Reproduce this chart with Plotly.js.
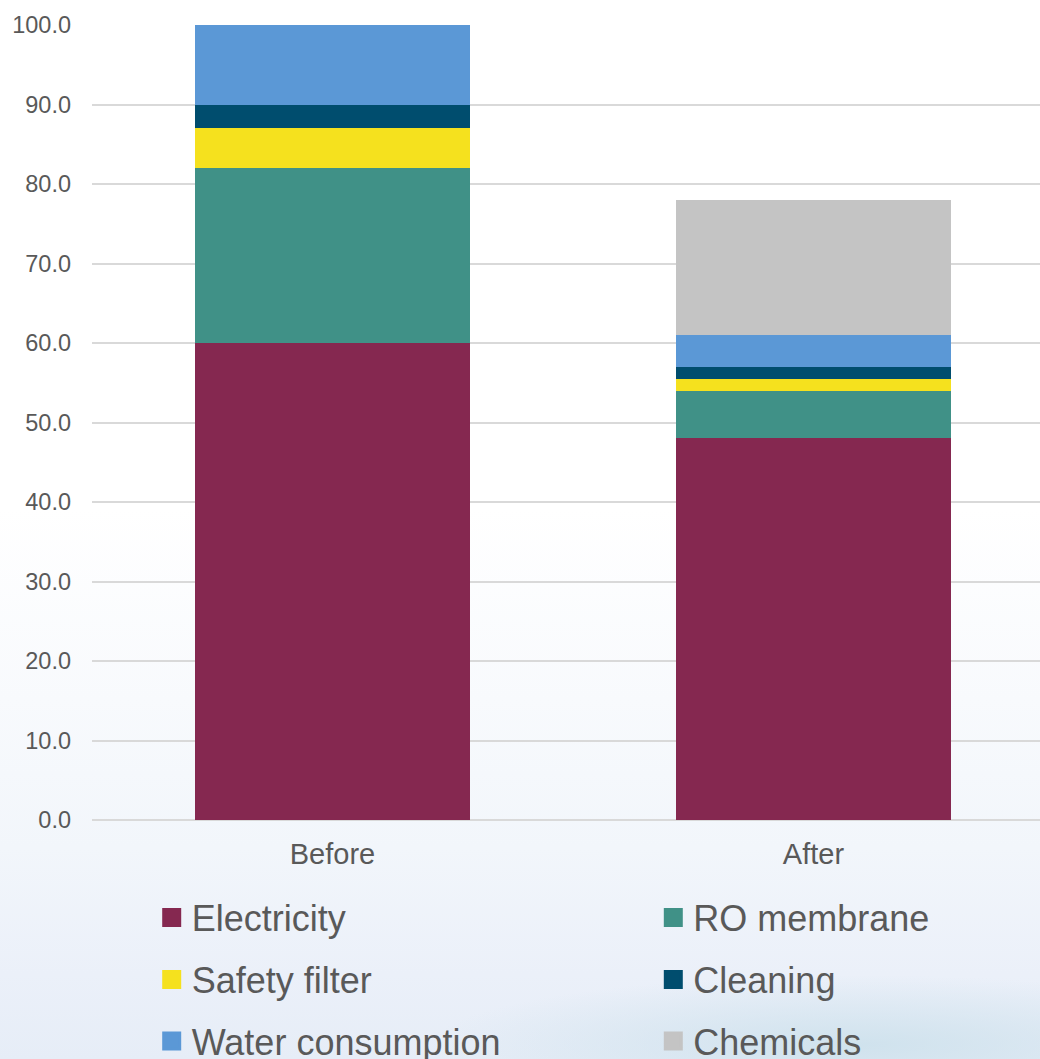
<!DOCTYPE html>
<html>
<head>
<meta charset="utf-8">
<script src="https://cdn.plot.ly/plotly-3.0.1.min.js"></script>
<style>
  html, body { margin: 0; padding: 0; }
  body {
    width: 1040px; height: 1059px; overflow: hidden;
    background:
      radial-gradient(ellipse 430px 70px at 860px 1045px, rgba(205,225,236,0.9), rgba(205,225,236,0) 100%),
      linear-gradient(to bottom, #ffffff 0%, #ffffff 48%, #f8fafd 66%, #f2f6fb 80%, #ebf0f9 92%, #e6edf7 100%);
  }
  #chart { width: 1040px; height: 1059px; }
</style>
</head>
<body>
<div id="chart"></div>
<script>
const categories = ["Before", "After"];
const seriesNames = ["Electricity", "RO membrane", "Safety filter", "Cleaning", "Water consumption", "Chemicals"];
const electricity = [60, 48];
const roMembrane = [22, 6];
const safetyFilter = [5, 1.5];
const cleaning = [3, 1.5];
const waterConsumption = [10, 4];
const chemicals = [0, 17];
const yTickValues = [0, 10, 20, 30, 40, 50, 60, 70, 80, 90, 100];
const yTickLabels = ["0.0", "10.0", "20.0", "30.0", "40.0", "50.0", "60.0", "70.0", "80.0", "90.0", "100.0"];

const colors = ["#852850", "#409187", "#F5E11E", "#004D6E", "#5B98D6", "#C4C4C4"];
const values = [electricity, roMembrane, safetyFilter, cleaning, waterConsumption, chemicals];
const legendIds = ["legend", "legend2", "legend3", "legend4", "legend5", "legend6"];

const barTraces = seriesNames.map((name, i) => ({
  type: "bar",
  name: name,
  x: categories,
  y: values[i],
  marker: { color: colors[i], line: { width: 0 } },
  showlegend: false,
  hoverinfo: "x+y+name"
}));

// legend entries (larger square swatches than the default bar swatch)
const legendTraces = seriesNames.map((name, i) => ({
  type: "scatter",
  mode: "markers",
  name: name,
  x: [null],
  y: [null],
  marker: { symbol: "square", size: 16, color: colors[i], line: { color: colors[i], width: 3 } },
  legend: legendIds[i],
  showlegend: true,
  hoverinfo: "skip"
}));

const fontFam = "'Liberation Sans', Arial, sans-serif";
const colX = [151.7, 653.3];
const rowY = [917.5, 979.5, 1041];

function legendAt(i) {
  return {
    orientation: "h",
    xref: "container", yref: "container",
    x: colX[i % 2] / 1040,
    y: 1 - rowY[Math.floor(i / 2)] / 1059,
    xanchor: "left", yanchor: "middle",
    bgcolor: "rgba(0,0,0,0)",
    borderwidth: 0,
    font: { family: fontFam, size: 36, color: "#595959" }
  };
}

const layout = {
  width: 1040, height: 1059,
  paper_bgcolor: "rgba(0,0,0,0)",
  plot_bgcolor: "rgba(0,0,0,0)",
  barmode: "stack",
  bargap: 0.428,
  margin: { l: 92, r: 0, t: 25, b: 239 },
  font: { family: fontFam, color: "#595959" },
  xaxis: {
    type: "category",
    range: [-0.5, 1.471],
    showgrid: false, zeroline: false, showline: false,
    ticks: "",
    ticklabelstandoff: 14,
    tickfont: { family: fontFam, size: 29, color: "#595959" },
    fixedrange: true
  },
  yaxis: {
    range: [0, 100],
    tickvals: yTickValues,
    ticktext: yTickLabels,
    showgrid: true, gridcolor: "#d9d9d9", gridwidth: 1.5,
    zeroline: true, zerolinecolor: "#d9d9d9", zerolinewidth: 1.5,
    showline: false, ticks: "",
    ticklabelstandoff: 20,
    tickfont: { family: fontFam, size: 23.5, color: "#595959" },
    fixedrange: true
  },
  showlegend: true
};
legendIds.forEach((id, i) => { layout[id] = legendAt(i); });

Plotly.newPlot("chart", barTraces.concat(legendTraces), layout, { displayModeBar: false });
</script>
</body>
</html>
